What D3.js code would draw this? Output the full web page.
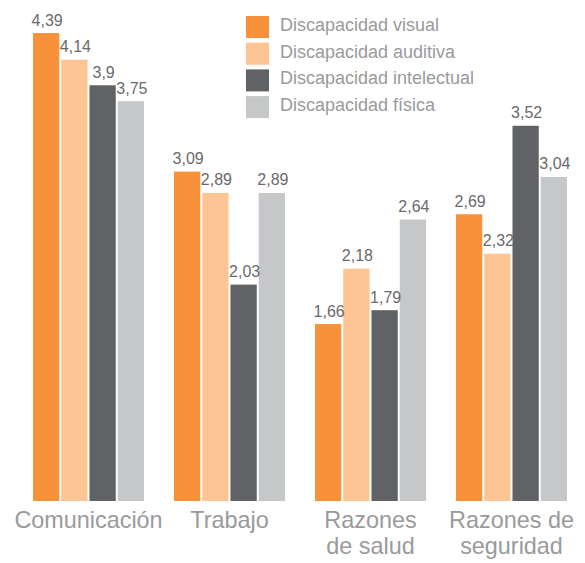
<!DOCTYPE html>
<html>
<head>
<meta charset="utf-8">
<script src="https://cdn.jsdelivr.net/npm/d3@7"></script>
<style>
  html, body { margin: 0; padding: 0; background: #fff; }
  svg { display: block; font-family: "Liberation Sans", Arial, sans-serif; }
</style>
</head>
<body>
<svg id="chart" width="585" height="563"></svg>
<script>
// Motivos por tipo de discapacidad
const categories = [["Comunicación"], ["Trabajo"], ["Razones", "de salud"], ["Razones de", "seguridad"]];
const series = ["Discapacidad visual", "Discapacidad auditiva", "Discapacidad intelectual", "Discapacidad física"];
const visual      = [4.39, 3.09, 1.66, 2.69];
const auditiva    = [4.14, 2.89, 2.18, 2.32];
const intelectual = [3.90, 2.03, 1.79, 3.52];
const fisica      = [3.75, 2.89, 2.64, 3.04];
const valueLabels = [
  ["4,39", "3,09", "1,66", "2,69"],
  ["4,14", "2,89", "2,18", "2,32"],
  ["3,9",  "2,03", "1,79", "3,52"],
  ["3,75", "2,89", "2,64", "3,04"]
];
const colors = ["#F7923A", "#FCC593", "#616265", "#C6C7C9"];

const values = [visual, auditiva, intelectual, fisica];
const svg = d3.select("#chart");

const catKeys = categories.map(c => c.join(" "));
const x0 = d3.scaleBand().domain(catKeys).range([33, 567]).paddingInner(30 / 141).paddingOuter(0);
const x1 = d3.scaleBand().domain(series).range([0, x0.bandwidth()]).paddingInner(0.07);
const y = d3.scaleLinear().domain([0, 4.7]).range([501, 0]);

const groups = svg.selectAll("g.group")
  .data(catKeys)
  .join("g")
  .attr("class", "group")
  .attr("transform", d => `translate(${x0(d)},0)`);

groups.each(function (cat, ci) {
  const g = d3.select(this);
  const rows = series.map((s, si) => ({ s, si, v: values[si][ci], label: valueLabels[si][ci] }));
  g.selectAll("rect")
    .data(rows)
    .join("rect")
    .attr("x", d => x1(d.s))
    .attr("y", d => y(d.v))
    .attr("width", x1.bandwidth())
    .attr("height", d => y(0) - y(d.v))
    .attr("fill", d => colors[d.si]);
  g.selectAll("text.val")
    .data(rows)
    .join("text")
    .attr("class", "val")
    .attr("x", d => x1(d.s) + x1.bandwidth() / 2 + 1)
    .attr("y", d => y(d.v) - 7.5)
    .attr("text-anchor", "middle")
    .attr("font-size", 16)
    .attr("fill", "#6a6a6c")
    .text(d => d.label);
});

// Category labels under the bars
categories.forEach((lines, ci) => {
  const cx = x0(catKeys[ci]) + x0.bandwidth() / 2;
  const t = svg.append("text")
    .attr("x", cx)
    .attr("y", 528)
    .attr("text-anchor", "middle")
    .attr("font-size", 23.4)
    .attr("fill", "#9a9a9c");
  lines.forEach((line, li) => {
    t.append("tspan")
      .attr("x", cx)
      .attr("dy", li === 0 ? 0 : 26)
      .text(line);
  });
});

// Legend
const legend = svg.append("g").attr("transform", "translate(246,16)");
const item = legend.selectAll("g")
  .data(series)
  .join("g")
  .attr("transform", (d, i) => `translate(0,${i * 26.7})`);
item.append("rect")
  .attr("width", 23)
  .attr("height", 22)
  .attr("fill", (d, i) => colors[i]);
item.append("text")
  .attr("x", 34)
  .attr("y", 15)
  .attr("font-size", 18)
  .attr("fill", "#9a9a9c")
  .text(d => d);
</script>
</body>
</html>
